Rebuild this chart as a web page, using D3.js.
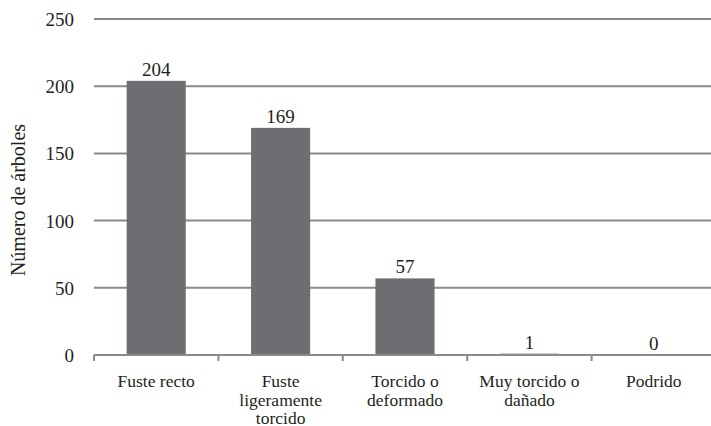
<!DOCTYPE html>
<html>
<head>
<meta charset="UTF-8">
<title>Número de árboles</title>
<style>
  body { margin: 0; background: #ffffff; }
  svg { display: block; font-family: "Liberation Serif", "Times New Roman", serif; }
</style>
</head>
<body>
<svg id="chart" width="711" height="426"></svg>
<script src="https://d3js.org/d3.v7.min.js"></script>
<script>
// data
var categories = ["Fuste recto", "Fuste ligeramente torcido", "Torcido o deformado", "Muy torcido o dañado", "Podrido"];
var labelLines = [["Fuste recto"], ["Fuste", "ligeramente", "torcido"], ["Torcido o", "deformado"], ["Muy torcido o", "dañado"], ["Podrido"]];
var values = [204, 169, 57, 1, 0];
var yTicks = [0, 50, 100, 150, 200, 250];

var svg = d3.select("#chart");
var plotLeft = 94, plotRight = 716, plotTop = 19, plotBottom = 355;

var x = d3.scaleBand()
    .domain(categories)
    .range([plotLeft, plotRight])
    .paddingInner(0.525)
    .paddingOuter(0.2625);

// band with no padding, for the tick marks between categories
var xCell = d3.scaleBand().domain(categories).range([plotLeft, plotRight]);

var y = d3.scaleLinear().domain([0, 250]).range([plotBottom, plotTop]);

// gridlines
svg.append("g")
    .selectAll("line")
    .data(yTicks.slice(1))
    .enter().append("line")
    .attr("x1", plotLeft).attr("x2", plotRight)
    .attr("y1", function(d) { return y(d); })
    .attr("y2", function(d) { return y(d); })
    .attr("stroke", "#8a8a8a")
    .attr("stroke-width", 2);

// y tick labels
svg.append("g")
    .selectAll("text")
    .data(yTicks)
    .enter().append("text")
    .attr("x", 74)
    .attr("y", function(d) { return y(d) + 7; })
    .attr("text-anchor", "end")
    .attr("font-size", 19)
    .attr("fill", "#231f20")
    .text(function(d) { return d; });

// bars
svg.append("g")
    .selectAll("rect")
    .data(values)
    .enter().append("rect")
    .attr("x", function(d, i) { return x(categories[i]); })
    .attr("width", x.bandwidth())
    .attr("y", function(d) { return y(d); })
    .attr("height", function(d) { return y(0) - y(d); })
    .attr("fill", "#6d6e71");

// value labels
svg.append("g")
    .selectAll("text")
    .data(values)
    .enter().append("text")
    .attr("x", function(d, i) { return x(categories[i]) + x.bandwidth() / 2; })
    .attr("y", function(d) { return y(d) - 5; })
    .attr("text-anchor", "middle")
    .attr("font-size", 19)
    .attr("fill", "#231f20")
    .text(function(d) { return d; });

// x axis line and ticks
svg.append("line")
    .attr("x1", plotLeft).attr("x2", plotRight)
    .attr("y1", y(0)).attr("y2", y(0))
    .attr("stroke", "#8a8a8a")
    .attr("stroke-width", 2);

var bounds = categories.map(function(c) { return xCell(c); }).concat([plotRight]);
svg.append("g")
    .selectAll("line")
    .data(bounds)
    .enter().append("line")
    .attr("x1", function(d) { return d; })
    .attr("x2", function(d) { return d; })
    .attr("y1", y(0))
    .attr("y2", y(0) + 6)
    .attr("stroke", "#8a8a8a")
    .attr("stroke-width", 2);

// category labels
var cat = svg.append("g")
    .selectAll("text")
    .data(labelLines)
    .enter().append("text")
    .attr("text-anchor", "middle")
    .attr("font-size", 17.5)
    .attr("fill", "#231f20")
    .attr("transform", function(d, i) {
        return "translate(" + (x(categories[i]) + x.bandwidth() / 2) + ",387)";
    });

cat.selectAll("tspan")
    .data(function(d) { return d; })
    .enter().append("tspan")
    .attr("x", 0)
    .attr("y", function(d, i) { return i * 18.7; })
    .text(function(d) { return d; });

// y axis title
svg.append("text")
    .attr("transform", "translate(25,200) rotate(-90)")
    .attr("text-anchor", "middle")
    .attr("font-size", 20)
    .attr("fill", "#231f20")
    .text("Número de árboles");
</script>
</body>
</html>
